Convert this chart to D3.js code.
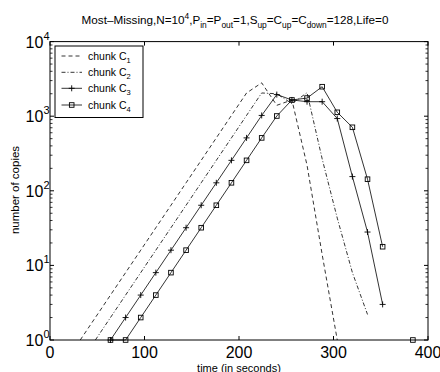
<!DOCTYPE html>
<html><head><meta charset="utf-8">
<script src="https://cdn.jsdelivr.net/npm/d3@7"></script>
<style>
body{margin:0;background:#fff}
svg{display:block}
text{font-family:"Liberation Sans",Arial,Helvetica,sans-serif;fill:#000}
</style>
</head><body>
<svg id="chart" width="440" height="372"></svg>
<script>
// Sampling instants (seconds)
const times = [32,48,64,80,96,112,128,144,160,176,192,208,224,240,256,272,288,304,320,336,352,368,384];
// Number of copies of each chunk at those instants (null = no copies, not drawn on log axis)
const chunk1 = [1,2,4,8,16,32,64,128,256,512,1024,2048,2800,1400,1650,220,14,1,null,null,null,null,null];
const chunk2 = [null,1,2,4,8,16,32,64,128,256,512,1024,2048,2000,1475,2066,268,43,8,2.2,null,null,null];
const chunk3 = [null,null,1,2,4,8,16,32,64,128,256,512,1024,1950,1650,1565,1565,930,155,28,3,null,null];
const chunk4 = [null,null,1,1,2,4,8,16,32,64,128,256,512,1006,1650,1750,2485,1128,710,143,17.8,null,1];

const seriesLabels = ["1","2","3","4"];
const xTicks = [0,100,200,300,400];
const yTickExponents = [0,1,2,3,4];

const svg = d3.select("#chart");
const plotL = 50, plotR = 428, plotT = 41.6, plotB = 340;

const x = d3.scaleLinear().domain([0,400]).range([plotL,plotR]);
const y = d3.scaleLog().domain([1,1e4]).range([plotB,plotT]);

// Series styling
const styles = [
  {dash:"4,3", marker:null},
  {dash:"4,2,1,2", marker:null},
  {dash:null, marker:"plus"},
  {dash:null, marker:"square"}
];
const allSeries = [chunk1,chunk2,chunk3,chunk4].map((vals,i)=>({
  label: seriesLabels[i],
  style: styles[i],
  points: times.map((t,j)=>({t, v: vals[j]}))
}));

svg.append("defs").append("clipPath").attr("id","plotclip")
  .append("rect").attr("x",plotL).attr("y",plotT-3).attr("width",plotR-plotL).attr("height",plotB-plotT+6);

const line = d3.line()
  .defined(d=>d.v!=null && d.v>0)
  .x(d=>x(d.t)).y(d=>y(d.v));

const plot = svg.append("g").attr("clip-path","url(#plotclip)");

function drawMarker(g, kind, cx, cy){
  if(kind==="plus"){
    g.append("path").attr("d",`M${cx-3},${cy}H${cx+3}M${cx},${cy-3}V${cy+3}`)
      .attr("stroke","#000").attr("stroke-width",0.9).attr("fill","none");
  } else if(kind==="square"){
    g.append("rect").attr("x",cx-2.3).attr("y",cy-2.3).attr("width",4.6).attr("height",4.6)
      .attr("stroke","#000").attr("stroke-width",0.9).attr("fill","none");
  }
}

allSeries.forEach(s=>{
  plot.append("path").datum(s.points)
    .attr("d",line)
    .attr("fill","none").attr("stroke","#000").attr("stroke-width",0.8)
    .attr("stroke-dasharray",s.style.dash);
  if(s.style.marker){
    s.points.filter(d=>d.v!=null && d.v>0).forEach(d=>{
      drawMarker(svg, s.style.marker, x(d.t), y(d.v));
    });
  }
});

// Axes box
const axisG = svg.append("g").attr("stroke","#000").attr("fill","none").attr("stroke-width",1);
axisG.append("rect").attr("x",plotL).attr("y",plotT).attr("width",plotR-plotL).attr("height",plotB-plotT);

// x ticks (inward, top and bottom)
xTicks.forEach(v=>{
  const px = x(v);
  axisG.append("path").attr("d",`M${px},${plotB}V${plotB-4}M${px},${plotT}V${plotT+4}`);
});
// y ticks: major decades and minor 2..9 (inward, left and right)
yTickExponents.forEach(e=>{
  const base = Math.pow(10,e);
  const py = y(base);
  axisG.append("path").attr("d",`M${plotL},${py}H${plotL+4}M${plotR},${py}H${plotR-4}`);
  if(e<4){
    for(let m=2;m<=9;m++){
      const pm = y(base*m);
      axisG.append("path").attr("d",`M${plotL},${pm}H${plotL+2.5}M${plotR},${pm}H${plotR-2.5}`).attr("stroke-width",0.8);
    }
  }
});

// Tick labels
svg.append("g").selectAll("text").data(xTicks).join("text")
  .attr("x",d=>x(d)).attr("y",358).attr("text-anchor","middle")
  .attr("font-size",16).text(d=>d);

const yl = svg.append("g").selectAll("text").data(yTickExponents).join("text")
  .attr("x",49.5).attr("y",d=>y(Math.pow(10,d))+6).attr("text-anchor","end")
  .attr("font-size",16);
yl.append("tspan").text("10");
yl.append("tspan").attr("font-size",11).attr("dy",-8).text(d=>d);

// Axis labels
svg.append("text").attr("x",239).attr("y",371.5).attr("text-anchor","middle")
  .attr("font-size",11).text("time (in seconds)");
svg.append("text").attr("transform","translate(18.5,190) rotate(-90)").attr("text-anchor","middle")
  .attr("font-size",11.5).text("number of copies");

// Title with sub/superscripts
const titleParts = [
  ["Most\u2013Missing,N=10",0],["4",1],[",P",0],["in",-1],["=P",0],["out",-1],
  ["=1,S",0],["up",-1],["=C",0],["up",-1],["=C",0],["down",-1],["=128,Life=0",0]
];
const title = svg.append("text").attr("x",235).attr("y",24).attr("text-anchor","middle").attr("font-size",11.7);
let shift = 0;
titleParts.forEach(([txt,kind])=>{
  const target = kind===1 ? -5 : kind===-1 ? 4 : 0;
  title.append("tspan").attr("dy",target-shift).attr("font-size",kind===0?11.7:8.4).text(txt);
  shift = target;
});

// Legend
const lg = svg.append("g");
lg.append("rect").attr("x",55).attr("y",46).attr("width",88).attr("height",71.5)
  .attr("fill","#fff").attr("stroke","#000").attr("stroke-width",1);
const legendY = [56,72.3,88.3,105];
allSeries.forEach((s,i)=>{
  const ly = legendY[i];
  lg.append("path").attr("d",`M61.5,${ly}H82`).attr("stroke","#000").attr("stroke-width",0.8)
    .attr("fill","none").attr("stroke-dasharray",s.style.dash);
  if(s.style.marker) drawMarker(lg, s.style.marker, 71.7, ly);
  const t = lg.append("text").attr("x",88).attr("y",ly+3.5).attr("font-size",10.5);
  t.append("tspan").text("chunk C");
  t.append("tspan").attr("font-size",7.5).attr("dy",3.5).text(s.label);
});
</script>
</body></html>
